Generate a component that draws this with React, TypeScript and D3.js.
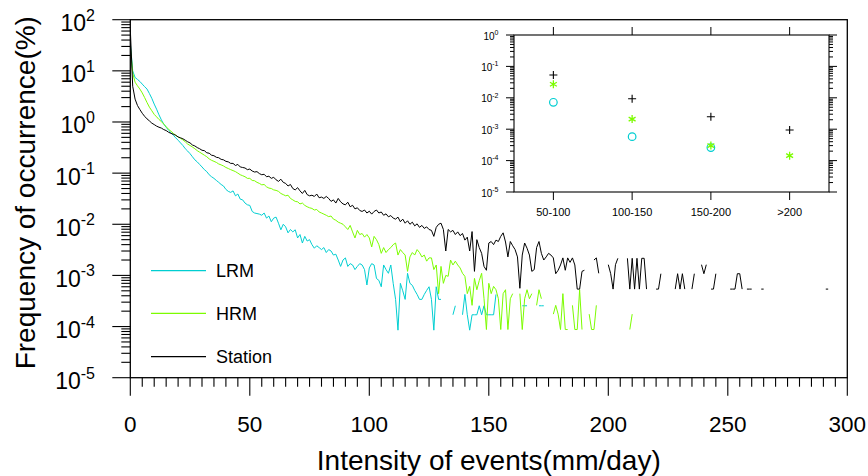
import React from "react";
import * as d3 from "d3";

// Frequency of occurrence (%) per 1 mm/day bin, index = intensity (mm/day). null = no event.
const stationFreq: (number | null)[] = [
  65, 5.0, 2.8, 2.1, 1.75, 1.48, 1.29, 1.15, 1.05, 0.95,
  0.89, 0.83, 0.79, 0.76, 0.71, 0.68, 0.63, 0.6, 0.575, 0.55,
  0.51, 0.49, 0.47, 0.44, 0.41, 0.39, 0.355, 0.34, 0.316, 0.3,
  0.28, 0.275, 0.25, 0.245, 0.224, 0.219, 0.204, 0.2, 0.186, 0.182,
  0.17, 0.166, 0.155, 0.155, 0.141, 0.148, 0.132, 0.129, 0.126, 0.117,
  0.12, 0.11, 0.105, 0.107, 0.098, 0.093, 0.095, 0.085, 0.087, 0.079,
  0.083, 0.074, 0.069, 0.076, 0.066, 0.063, 0.056, 0.06, 0.05, 0.047,
  0.052, 0.045, 0.04, 0.046, 0.038, 0.036, 0.037, 0.035, 0.039, 0.033,
  0.034, 0.032, 0.035, 0.032, 0.028, 0.03, 0.026, 0.032, 0.0275, 0.025,
  0.024, 0.027, 0.022, 0.0235, 0.02, 0.021, 0.0186, 0.0178, 0.019, 0.0166,
  0.018, 0.0158, 0.0178, 0.019, 0.0166, 0.0174, 0.015, 0.016, 0.014, 0.0148,
  0.0132, 0.0126, 0.0138, 0.0112, 0.0126, 0.0105, 0.0117, 0.01, 0.011, 0.0093,
  0.0102, 0.0087, 0.0095, 0.0083, 0.0089, 0.0079, 0.0076, 0.0058, 0.0087, 0.01,
  0.0105, 0.0079, 0.003, 0.0079, 0.0071, 0.0076, 0.0063, 0.0071, 0.006, 0.0066,
  0.0049, 0.0056, 0.003, 0.0072, 0.0012, 0.005, 0.0035, 0.0027, 0.0015, 0.00126,
  0.0043, 0.0046, 0.004, 0.0049, 0.0046, 0.0058, 0.0068, 0.0045, 0.0023, 0.0046,
  0.0038, 0.0032, 0.0023, 0.00056, 0.0025, 0.0043, 0.0034, 0.0025, 0.0012, 0.0013,
  0.0035, 0.0046, 0.0027, 0.002, 0.0023, 0.0027, 0.0025, 0.0022, 0.00108, 0.00126,
  0.0016, 0.0022, 0.00126, 0.0022, 0.0018, 0.0022, 0.0016, 0.00054, 0.00054, 0.0012,
  0.00126, null, null, null, 0.002, 0.0022, 0.0011, null, null, null,
  0.00162, 0.00108, 0.00054, 0.00162, 0.00216, null, null, null, 0.00216, 0.00054,
  0.00216, 0.00054, 0.00216, 0.00054, 0.00216, 0.00216, 0.00054, null, null, null,
  0.00054, 0.00054, 0.00108, null, null, null, null, null, 0.00054, 0.00108,
  0.00054, 0.00108, 0.00054, null, null, 0.00054, 0.00108, null, null, 0.00162,
  0.00108, 0.00162, null, 0.00054, 0.00054, 0.00108, null, null, null, null,
  null, 0.00054, 0.00054, 0.00054, 0.00108, 0.00108, 0.00054, null, 0.00054, 0.00054,
  0.00054, null, null, null, 0.00054, 0.00054, null, null, null, null,
  null, null, null, null, null, null, null, null, null, null,
  null, null, null, null, null, null, null, null, null, null,
  null, 0.00054, 0.00054,
];

const hrmFreq: (number | null)[] = [
  30, 9.1, 6.0, 5.1, 4.4, 3.7, 3.0, 2.4, 1.95, 1.66,
  1.41, 1.26, 1.12, 1.02, 0.91, 0.81, 0.72, 0.66, 0.6, 0.55,
  0.51, 0.48, 0.447, 0.41, 0.37, 0.347, 0.324, 0.3, 0.275, 0.257,
  0.24, 0.224, 0.209, 0.19, 0.178, 0.17, 0.162, 0.151, 0.145, 0.138,
  0.129, 0.123, 0.117, 0.112, 0.107, 0.1, 0.093, 0.089, 0.085, 0.079,
  0.079, 0.072, 0.071, 0.066, 0.063, 0.059, 0.06, 0.054, 0.051, 0.05,
  0.047, 0.046, 0.044, 0.04, 0.038, 0.036, 0.037, 0.032, 0.03, 0.028,
  0.0275, 0.025, 0.026, 0.0234, 0.022, 0.021, 0.0204, 0.019, 0.0195, 0.0174,
  0.0166, 0.0158, 0.015, 0.0141, 0.0145, 0.0126, 0.012, 0.011, 0.0105, 0.01,
  0.0089, 0.0079, 0.0095, 0.0071, 0.0054, 0.0076, 0.0063, 0.0066, 0.0056, 0.0063,
  0.0054, 0.0036, 0.0058, 0.005, 0.004, 0.0027, 0.0035, 0.0028, 0.0032, 0.0035,
  0.004, 0.0043, 0.0025, 0.0032, 0.0028, 0.0025, 0.0012, 0.0023, 0.0028, 0.0025,
  0.0032, 0.0028, 0.0023, 0.0025, 0.0019, 0.0022, 0.0022, 0.0013, 0.0016, 0.00044,
  0.0015, 0.0007, 0.001, 0.00096, 0.002, 0.0016, 0.0019, 0.0016, 0.0014, 0.0011,
  0.00096, 0.00044, 0.00061, 0.00026, 0.000875, 0.000525, 0.00079, 0.0011, 0.00035, 0.0000875,
  0.0007, 0.00044, 0.00061, 0.000525, 0.00035, 0.0000875, 0.00044, 0.000525, 0.0000875, 0.00035,
  0.00044, null, null, 0.00044, 0.0000875, 0.00035, 0.000525, 0.00035, 0.00044, null,
  0.00026, 0.000525, 0.00035, null, null, null, null, 0.000175, 0.00026, 0.000175,
  0.0000875, 0.00044, 0.0000875, 0.0000875, null, 0.00026, 0.0000875, 0.0000875, 0.000525, 0.0000875,
  null, null, 0.000175, 0.0000875, 0.0000875, 0.00026, null, null, null, null,
  null, null, null, null, null, null, null, null, null, 0.0000875,
  0.000175,
];

const lrmFreq: (number | null)[] = [
  35, 10, 7.4, 6.8, 6.2, 5.5, 4.9, 4.4, 3.6, 2.9,
  2.24, 1.78, 1.38, 1.1, 0.91, 0.79, 0.69, 0.62, 0.55, 0.49,
  0.44, 0.39, 0.347, 0.3, 0.27, 0.24, 0.209, 0.182, 0.166, 0.148,
  0.132, 0.117, 0.107, 0.093, 0.085, 0.079, 0.072, 0.066, 0.06, 0.056,
  0.048, 0.044, 0.042, 0.045, 0.036, 0.039, 0.031, 0.03, 0.026, 0.024,
  0.0234, 0.0178, 0.0166, 0.0162, 0.0158, 0.015, 0.0166, 0.0132, 0.0145, 0.0112,
  0.0132, 0.0138, 0.0105, 0.0078, 0.01, 0.0089, 0.0068, 0.0079, 0.0071, 0.0078,
  0.0054, 0.0063, 0.0043, 0.0058, 0.0047, 0.005, 0.004, 0.0034, 0.0038, 0.0035,
  0.0032, 0.0035, 0.0028, 0.0032, 0.003, 0.0025, 0.0026, 0.002, 0.0015, 0.002,
  0.0022, 0.0015, 0.0017, 0.0016, 0.0013, 0.0015, 0.0017, 0.0016, 0.0013, 0.00065,
  0.0014, 0.0017, 0.0016, 0.00087, 0.0008, 0.0006, 0.0016, 0.0013, 0.0011, 0.0016,
  0.0007, 0.00034, 0.000085, 0.0007, 0.0005, 0.00034, 0.0011, 0.0007, 0.00064, 0.00051,
  0.000425, 0.00034, 0.00034, 0.000425, 0.00051, 0.0006, 0.00034, 0.000085, 0.0006, 0.00034,
  0.00034, null, null, null, null, 0.00017, 0.000255, null, null, 0.00017,
  0.000425, 0.00017, 0.000085, 0.00017, 0.00017, 0.00017, 0.000255, 0.00017, 0.000255, 0.00017,
  0.00017, 0.00017, 0.00017, 0.000425, null, null, null, null, null, null,
  null, null, null, null, 0.000255, 0.000255, 0.000255, null, null, null,
  null, 0.000255, 0.000255, 0.000255,
];

// Inset: frequency (%) by intensity class
const insetCategories = ["50-100", "100-150", "150-200", ">200"];
const insetStation: (number | null)[] = [0.053, 0.0093, 0.0025, 0.00094];
const insetHRM: (number | null)[] = [0.027, 0.0021, 0.0003, 0.000144];
const insetLRM: (number | null)[] = [0.0072, 0.00058, 0.00026, null];

const xTickValues = [0, 50, 100, 150, 200, 250, 300];
const yExponents = [-5, -4, -3, -2, -1, 0, 1, 2];
const insetExponents = [-5, -4, -3, -2, -1, 0];

const legendItems = [
  { label: "LRM", color: "#00CED1" },
  { label: "HRM", color: "#7CFC00" },
  { label: "Station", color: "#000000" },
];

const FONT = "'Liberation Sans', Arial, Helvetica, sans-serif";

export default function App() {
  const L = 130.3, R = 847.3, T = 19.7, B = 377.7;
  const x = d3.scaleLinear().domain([0, 300]).range([L, R]);
  const y = d3.scaleLog().domain([1e-5, 1e2]).range([B, T]);

  const IL = 514, IR = 829, IT = 35, IB = 192;
  const xi = d3.scaleLinear().domain([0.5, 4.5]).range([IL, IR]);
  const yi = d3.scaleLog().domain([1e-5, 1]).range([IB, IT]);

  const line = d3
    .line<[number, number | null]>()
    .defined((d) => d[1] != null && (d[1] as number) > 0)
    .x((d) => x(d[0]))
    .y((d) => y(d[1] as number));
  const pts = (arr: (number | null)[]) => arr.map((v, i) => [i, v] as [number, number | null]);

  const minorY: number[] = [];
  for (let k = -5; k < 2; k++) for (let m = 2; m <= 9; m++) minorY.push(m * Math.pow(10, k));
  const minorYi: number[] = [];
  for (let k = -5; k < 0; k++) for (let m = 2; m <= 9; m++) minorYi.push(m * Math.pow(10, k));
  const minorX: number[] = d3.range(0, 301, 5).filter((v) => v % 50 !== 0);

  const series = [
    { data: lrmFreq, color: legendItems[0].color },
    { data: hrmFreq, color: legendItems[1].color },
    { data: stationFreq, color: legendItems[2].color },
  ];

  const legendY = [270.7, 313.3, 356.7];

  const plus = (cx: number, cy: number, s: number) => `M${cx - s},${cy}H${cx + s}M${cx},${cy - s}V${cy + s}`;
  const star = (cx: number, cy: number, s: number) => {
    let p = "";
    for (let a = 90; a < 270; a += 60) {
      const r = (a * Math.PI) / 180;
      const dx = Math.cos(r) * s, dy = Math.sin(r) * s;
      p += `M${cx - dx},${cy - dy}L${cx + dx},${cy + dy}`;
    }
    return p;
  };

  return (
    <svg
      width={868}
      height={476}
      style={{ position: "absolute", left: 0, top: 0, background: "#fff" }}
      fontFamily={FONT}
    >
      <rect x={0} y={0} width={868} height={476} fill="#fff" />
      <defs>
        <clipPath id="plotclip">
          <rect x={L} y={T} width={R - L} height={B - T} />
        </clipPath>
      </defs>

      {/* data lines */}
      <g clipPath="url(#plotclip)" fill="none" strokeWidth={1} strokeLinejoin="round">
        {series.map((s, i) => (
          <path key={i} d={line(pts(s.data)) || ""} stroke={s.color} />
        ))}
      </g>

      {/* main frame */}
      <rect x={L} y={T} width={R - L} height={B - T} fill="none" stroke="#000" strokeWidth={1.3} />

      {/* ticks */}
      <g stroke="#000" strokeWidth={1.1}>
        {yExponents.map((k) => (
          <line key={"ym" + k} x1={L - 18} x2={L} y1={y(Math.pow(10, k))} y2={y(Math.pow(10, k))} />
        ))}
        {minorY.map((v, i) => (
          <line key={"yn" + i} x1={L - 9} x2={L} y1={y(v)} y2={y(v)} />
        ))}
        {xTickValues.map((v) => (
          <line key={"xm" + v} x1={x(v)} x2={x(v)} y1={B} y2={B + 18} />
        ))}
        {minorX.map((v) => (
          <line key={"xn" + v} x1={x(v)} x2={x(v)} y1={B} y2={B + 9} />
        ))}
      </g>

      {/* y tick labels */}
      {yExponents.map((k) => (
        <text key={"yl" + k} x={95} y={y(Math.pow(10, k)) + 11.5} textAnchor="end" fontSize={23} fill="#000">
          10
          <tspan dy={-10.5} fontSize={16}>
            {k < 0 ? "-" + Math.abs(k) : String(k)}
          </tspan>
        </text>
      ))}

      {/* x tick labels */}
      {xTickValues.map((v) => (
        <text key={"xl" + v} x={x(v)} y={431.7} textAnchor="middle" fontSize={22.5} fill="#000">
          {v}
        </text>
      ))}

      {/* axis titles */}
      <text x={(L + R) / 2} y={470} textAnchor="middle" fontSize={28} fill="#000">
        Intensity of events(mm/day)
      </text>
      <text
        transform={`translate(35,${(T + B) / 2 - 6}) rotate(-90)`}
        textAnchor="middle"
        fontSize={28}
        fill="#000"
      >
        Frequency of occurrence(%)
      </text>

      {/* legend */}
      {legendItems.map((it, i) => (
        <g key={it.label}>
          <line x1={151} x2={206} y1={legendY[i]} y2={legendY[i]} stroke={it.color} strokeWidth={1.2} />
          <text x={216} y={legendY[i] + 6.6} fontSize={18} fill="#000">
            {it.label}
          </text>
        </g>
      ))}

      {/* inset */}
      <g>
        <rect x={IL} y={IT} width={IR - IL} height={IB - IT} fill="#fff" stroke="#000" strokeWidth={1.1} />
        <g stroke="#000" strokeWidth={1}>
          {insetExponents.map((k) => (
            <g key={"im" + k}>
              <line x1={IL - 8} x2={IL} y1={yi(Math.pow(10, k))} y2={yi(Math.pow(10, k))} />
              <line x1={IR} x2={IR + 8} y1={yi(Math.pow(10, k))} y2={yi(Math.pow(10, k))} />
            </g>
          ))}
          {minorYi.map((v, i) => (
            <g key={"in" + i}>
              <line x1={IL - 4} x2={IL} y1={yi(v)} y2={yi(v)} />
              <line x1={IR} x2={IR + 4} y1={yi(v)} y2={yi(v)} />
            </g>
          ))}
          {insetCategories.map((c, i) => (
            <g key={"ic" + c}>
              <line x1={xi(i + 1)} x2={xi(i + 1)} y1={IT - 8} y2={IT} />
              <line x1={xi(i + 1)} x2={xi(i + 1)} y1={IB} y2={IB + 8} />
            </g>
          ))}
        </g>
        {insetExponents.map((k) => (
          <text key={"iyl" + k} x={498.5} y={yi(Math.pow(10, k)) + 4.5} textAnchor="end" fontSize={10} fill="#000">
            10
            <tspan dy={-4.8} fontSize={7}>
              {k < 0 ? "-" + Math.abs(k) : String(k)}
            </tspan>
          </text>
        ))}
        {insetCategories.map((c, i) => (
          <text key={"ixl" + c} x={xi(i + 1)} y={216} textAnchor="middle" fontSize={11} fill="#000">
            {c}
          </text>
        ))}
        {/* markers */}
        {insetLRM.map((v, i) =>
          v != null ? (
            <circle key={"lrm" + i} cx={xi(i + 1)} cy={yi(v)} r={3.8} fill="none" stroke={legendItems[0].color} strokeWidth={1.2} />
          ) : null
        )}
        {insetHRM.map((v, i) =>
          v != null ? (
            <path key={"hrm" + i} d={star(xi(i + 1), yi(v), 4)} stroke={legendItems[1].color} strokeWidth={1.3} fill="none" />
          ) : null
        )}
        {insetStation.map((v, i) =>
          v != null ? (
            <path key={"st" + i} d={plus(xi(i + 1), yi(v), 4)} stroke="#000" strokeWidth={1.1} fill="none" />
          ) : null
        )}
      </g>
    </svg>
  );
}
